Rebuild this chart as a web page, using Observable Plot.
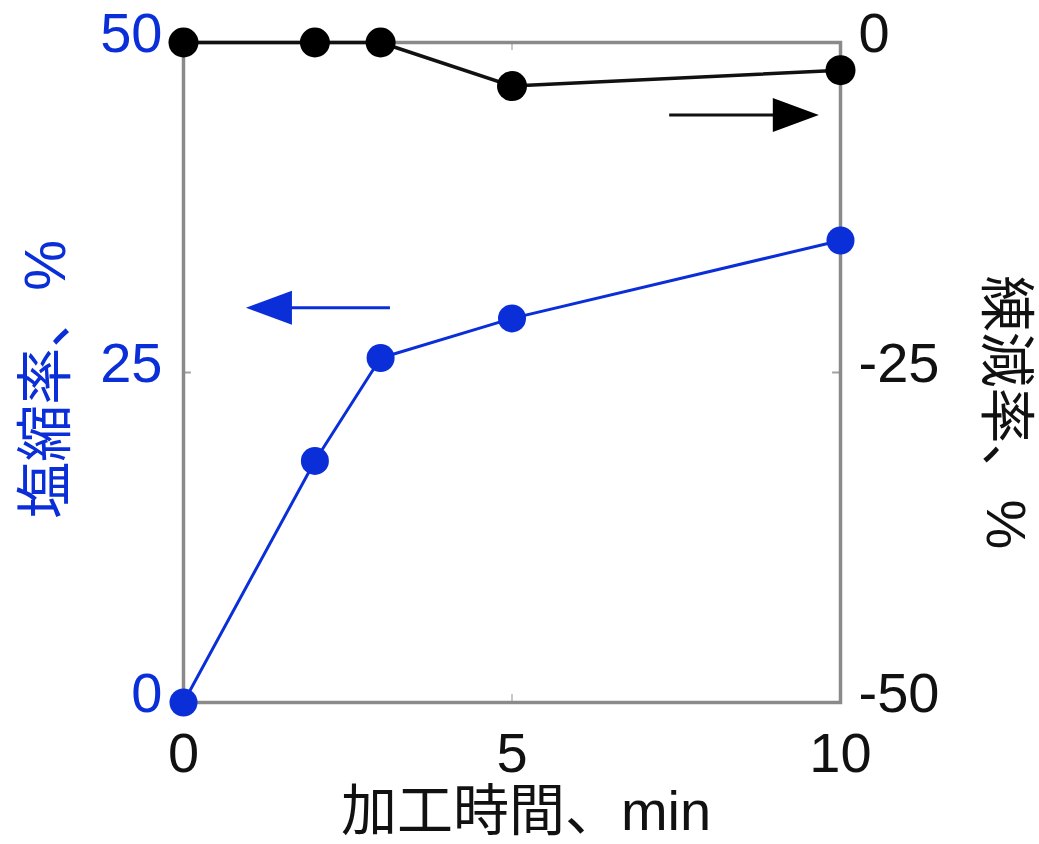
<!DOCTYPE html>
<html><head><meta charset="utf-8">
<script src="https://cdn.jsdelivr.net/npm/d3@7"></script>
<script src="https://cdn.jsdelivr.net/npm/@observablehq/plot@0.6"></script>
<style>html,body{margin:0;padding:0;background:#fff;}</style>
</head><body><div id="chart"></div>
<script>
const time = [0, 2, 3, 5, 10];
const shrinkRate = [0, 18.3, 26.1, 29.1, 35.0];      // 塩縮率 (left axis)
const lossRate = [0, 0, 0, -3.3, -2.1];              // 練減率 (right axis)
const leftTicks = [0, 25, 50];
const rightTicks = [0, -25, -50];
const xTicks = [0, 5, 10];
const xLabel = ["加工時間、min"];
const leftLabel = ["塩縮率、%"];
const rightLabel = ["練減率、%"];
// arrow annotations (in data units, left-axis scale)
const arrowLeft = [{x1: 3.15, x2: 0.95, y: 29.9}];
const arrowRight = [{x1: 7.4, x2: 9.67, y: 44.5}];

const BLUE = "#0a2fd8";
const GRAY = "#8a8a8a";
const shift = v => v + 50; // right axis -50..0 -> 0..50

const blueData = time.map((t, i) => ({t, v: shrinkRate[i]}));
const blackData = time.map((t, i) => ({t, v: shift(lossRate[i])}));

const head = {
  draw(ctx) {
    ctx.moveTo(0, 0);
    ctx.lineTo(-46, -17);
    ctx.lineTo(-46, 17);
    ctx.closePath();
  }
};

const font = "'Liberation Sans', Arial, 'Noto Sans CJK JP', sans-serif";
const cjk = "'Liberation Sans', 'Noto Sans CJK JP', sans-serif";

const chart = Plot.plot({
  width: 1039,
  height: 844,
  marginLeft: 183,
  marginRight: 199,
  marginTop: 42,
  marginBottom: 142,
  style: {fontFamily: font, fontSize: "56px", background: "#fff", overflow: "visible"},
  x: {domain: [0, 10]},
  y: {domain: [0, 50]},
  marks: [
    // inner ticks
    Plot.ruleX([5], {y1: 0, y2: 0.6, stroke: "#c8c8c8", strokeWidth: 2}),
    Plot.ruleX([5], {y1: 49.4, y2: 50, stroke: "#c8c8c8", strokeWidth: 2}),
    Plot.ruleY([25], {x1: 0, x2: 0.12, stroke: "#a0a0a0", strokeWidth: 2}),
    Plot.ruleY([25], {x1: 9.88, x2: 10, stroke: "#a0a0a0", strokeWidth: 2}),
    Plot.frame({stroke: GRAY, strokeWidth: 3.5}),
    Plot.axisX(xTicks, {tickSize: 0, tickPadding: 30, color: "#111", label: null, fontSize: 56}),
    Plot.axisY(leftTicks, {anchor: "left", tickSize: 0, tickPadding: 21, dy: -8, color: BLUE, label: null, fontSize: 56}),
    Plot.axisY(rightTicks.map(shift), {anchor: "right", tickSize: 0, tickPadding: 18, dy: -8, color: "#111", label: null, fontSize: 56, tickFormat: d => String(d - 50)}),
    // black series
    Plot.line(blackData, {x: "t", y: "v", stroke: "#111", strokeWidth: 3.5}),
    Plot.dot(blackData, {x: "t", y: "v", r: 15, fill: "#000", stroke: "none"}),
    // blue series
    Plot.line(blueData, {x: "t", y: "v", stroke: BLUE, strokeWidth: 3}),
    Plot.dot(blueData, {x: "t", y: "v", r: 14, fill: BLUE, stroke: "none"}),
    // arrows
    Plot.ruleY(arrowLeft, {x1: "x1", x2: d => d.x2 + 0.3, y: "y", stroke: BLUE, strokeWidth: 3}),
    Plot.dot(arrowLeft, {x: "x2", y: "y", symbol: head, r: 10, rotate: 180, fill: BLUE, stroke: "none"}),
    Plot.ruleY(arrowRight, {x1: "x1", x2: d => d.x2 - 0.3, y: "y", stroke: "#111", strokeWidth: 3}),
    Plot.dot(arrowRight, {x: "x2", y: "y", symbol: head, r: 10, rotate: 0, fill: "#000", stroke: "none"}),
    // axis titles
    Plot.text(xLabel, {frameAnchor: "bottom", textAnchor: "middle", lineAnchor: "middle", dx: 14, dy: 110, text: d => d, fontSize: 56, fill: "#111", fontFamily: cjk}),
    Plot.text(leftLabel, {frameAnchor: "left", textAnchor: "middle", lineAnchor: "middle", dx: -137, dy: 7, rotate: -90, text: d => d, fontSize: 57, fill: BLUE, fontFamily: cjk}),
    Plot.text(rightLabel, {frameAnchor: "right", textAnchor: "middle", lineAnchor: "middle", dx: 164, dy: 40, rotate: 90, text: d => d, fontSize: 56, fill: "#111", fontFamily: cjk})
  ]
});
document.getElementById("chart").appendChild(chart);
</script>
</body></html>
